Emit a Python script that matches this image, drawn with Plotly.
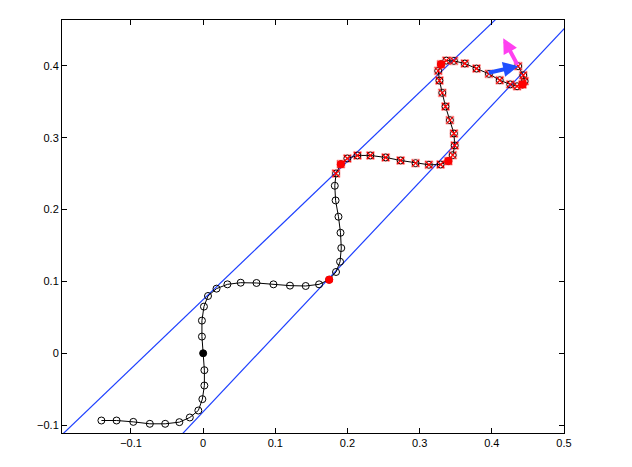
import plotly.graph_objects as go

# trajectory points
traj_x = [-0.141, -0.120, -0.0968, -0.0739, -0.0526, -0.0330, -0.0185, -0.0067, -0.0011, 0.0017,
          0.0017, 0.0, -0.0017, -0.0017, 0.0011, 0.0067, 0.0185, 0.0336, 0.0520, 0.0739,
          0.0974, 0.1203, 0.1421, 0.1606, 0.1746, 0.1841, 0.1897, 0.1914, 0.1903, 0.1875,
          0.1835, 0.1824, 0.1841, 0.1908, 0.1998, 0.2138, 0.2317, 0.2529, 0.2736, 0.2943,
          0.3128, 0.3290, 0.3397, 0.3458, 0.3486, 0.3475, 0.3419, 0.3358, 0.3313, 0.3274,
          0.3257, 0.3296, 0.3369, 0.3475, 0.3626, 0.3788, 0.3960, 0.4110, 0.4255, 0.4350,
          0.4425, 0.4455, 0.4435, 0.4365]
traj_y = [-0.0936, -0.0936, -0.0955, -0.0982, -0.0982, -0.0959, -0.0894, -0.0797, -0.0639, -0.0449,
          -0.0236, 0.0, 0.0232, 0.0454, 0.0649, 0.0797, 0.0899, 0.0959, 0.0982, 0.0978,
          0.0959, 0.0941, 0.0936, 0.0959, 0.1024, 0.1131, 0.1274, 0.1464, 0.1677, 0.1900,
          0.2127, 0.2331, 0.2502, 0.2632, 0.2711, 0.2753, 0.2753, 0.2725, 0.2683, 0.2646,
          0.2623, 0.2627, 0.2674, 0.2757, 0.2892, 0.3058, 0.3244, 0.3434, 0.3624, 0.3795,
          0.3930, 0.4022, 0.4073, 0.4069, 0.4032, 0.3962, 0.3888, 0.3800, 0.3742, 0.3716,
          0.3741, 0.3787, 0.3870, 0.3996]

red_x_start = 32          # index from which points carry a red cross
red_idx = [24, 33, 42, 51, 60]   # red filled points
origin_idx = [11]          # black filled point

# boundary lines
upper_line_x = [-0.25, 0.55]
upper_line_y = [0.962 * v + 0.0747 for v in upper_line_x]
lower_line_x = [-0.25, 0.55]
lower_line_y = [1.066 * v - 0.0815 for v in lower_line_x]

# arrows: tail -> tip
blue_arrow = [0.3936, 0.3900, 0.4365, 0.3996]
magenta_arrow = [0.4365, 0.3996, 0.4158, 0.4385]

x_ticks = [-0.1, 0, 0.1, 0.2, 0.3, 0.4, 0.5]
y_ticks = [-0.1, 0, 0.1, 0.2, 0.3, 0.4]

fig = go.Figure()
fig.add_trace(go.Scatter(x=upper_line_x, y=upper_line_y, mode="lines",
                         line=dict(color="#1e40ff", width=1.2)))
fig.add_trace(go.Scatter(x=lower_line_x, y=lower_line_y, mode="lines",
                         line=dict(color="#1e40ff", width=1.2)))
fig.add_trace(go.Scatter(x=traj_x, y=traj_y, mode="lines+markers",
                         line=dict(color="black", width=1),
                         marker=dict(symbol="circle-open", size=7, color="black",
                                     line=dict(width=1, color="black"))))
fig.add_trace(go.Scatter(x=traj_x[red_x_start:], y=traj_y[red_x_start:], mode="markers",
                         marker=dict(symbol="square-open", size=8, color="rgba(255,60,60,0.35)",
                                     line=dict(width=1, color="rgba(255,60,60,0.35)"))))
fig.add_trace(go.Scatter(x=traj_x[red_x_start:], y=traj_y[red_x_start:], mode="markers",
                         marker=dict(symbol="x-thin-open", size=7, color="red",
                                     line=dict(width=1.3, color="red"))))
fig.add_trace(go.Scatter(x=[traj_x[i] for i in red_idx], y=[traj_y[i] for i in red_idx],
                         mode="markers", marker=dict(symbol="circle", size=8, color="red",
                                                     line=dict(width=0))))
fig.add_trace(go.Scatter(x=[traj_x[i] for i in origin_idx], y=[traj_y[i] for i in origin_idx],
                         mode="markers", marker=dict(symbol="circle", size=7, color="black",
                                                     line=dict(width=0))))

for arr, col in [(blue_arrow, "#1f4fff"), (magenta_arrow, "#ff40f0")]:
    fig.add_annotation(x=arr[2], y=arr[3], ax=arr[0], ay=arr[1],
                       xref="x", yref="y", axref="x", ayref="y",
                       showarrow=True, arrowhead=2, arrowsize=0.75, arrowwidth=4,
                       arrowcolor=col, text="")

axis_common = dict(showgrid=False, zeroline=False, showline=True, linecolor="black",
                   linewidth=1, mirror="ticks", ticks="inside", ticklen=5, tickcolor="black",
                   tickfont=dict(family="Liberation Sans, Arial, sans-serif", size=11, color="black"))
fig.update_xaxes(range=[-0.1956, 0.5], tickvals=x_ticks,
                 ticktext=[("\u2212" if v < 0 else "") + (f"{abs(v):g}") for v in x_ticks],
                 **axis_common)
fig.update_yaxes(range=[-0.111, 0.4638], tickvals=y_ticks,
                 ticktext=[("\u2212" if v < 0 else "") + (f"{abs(v):g}") for v in y_ticks],
                 **axis_common)
fig.update_layout(width=632, height=467, showlegend=False,
                  margin=dict(l=62, r=68, t=20, b=34),
                  plot_bgcolor="white", paper_bgcolor="white")
fig.write_html("out.html")
